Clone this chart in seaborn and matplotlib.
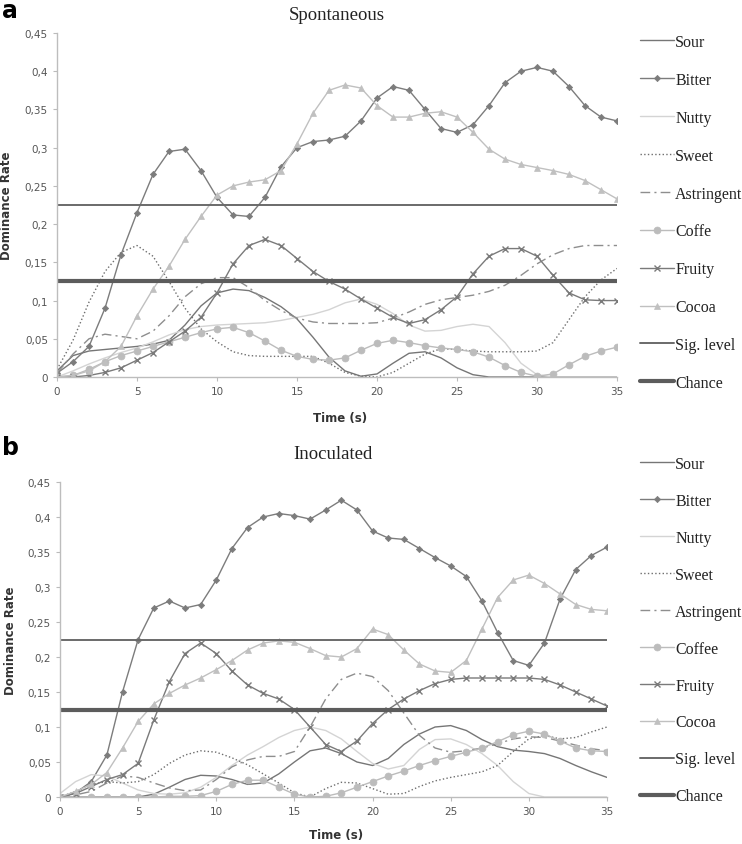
import numpy as np
import pandas as pd
import matplotlib
matplotlib.use("Agg")
import matplotlib.pyplot as plt
import seaborn as sns
from matplotlib.ticker import FuncFormatter, MultipleLocator

# time axis (s)
time_s = list(range(36))

# ---- panel a: spontaneous ----
sour_a = [0.008, 0.028, 0.034, 0.036, 0.038, 0.040, 0.043, 0.048, 0.068, 0.093, 0.110, 0.115,
          0.113, 0.104, 0.092, 0.076, 0.052, 0.026, 0.008, 0.001, 0.004, 0.018, 0.031, 0.033,
          0.025, 0.012, 0.003, 0.0, 0.0, 0.0, 0.0, 0.0, 0.0, 0.0, 0.0, 0.0]
bitter_a = [0.005, 0.020, 0.040, 0.090, 0.160, 0.215, 0.265, 0.295, 0.298, 0.270, 0.235, 0.212,
            0.210, 0.235, 0.275, 0.300, 0.308, 0.310, 0.315, 0.335, 0.365, 0.380, 0.375, 0.350,
            0.325, 0.320, 0.330, 0.355, 0.385, 0.400, 0.405, 0.400, 0.380, 0.355, 0.340, 0.335]
nutty_a = [0.0, 0.008, 0.017, 0.025, 0.032, 0.038, 0.046, 0.055, 0.062, 0.066, 0.068, 0.069,
           0.070, 0.071, 0.074, 0.078, 0.082, 0.088, 0.097, 0.102, 0.095, 0.083, 0.068, 0.060,
           0.061, 0.066, 0.069, 0.066, 0.045, 0.018, 0.003, 0.0, 0.0, 0.0, 0.0, 0.0]
sweet_a = [0.010, 0.048, 0.098, 0.138, 0.163, 0.172, 0.158, 0.125, 0.090, 0.063, 0.046, 0.033,
           0.028, 0.027, 0.027, 0.027, 0.027, 0.018, 0.006, 0.001, 0.0, 0.006, 0.018, 0.030,
           0.037, 0.036, 0.034, 0.033, 0.033, 0.033, 0.034, 0.045, 0.075, 0.105, 0.127, 0.142]
astringent_a = [0.005, 0.030, 0.050, 0.056, 0.053, 0.050, 0.060, 0.080, 0.105, 0.122, 0.130, 0.130,
                0.117, 0.100, 0.087, 0.077, 0.072, 0.070, 0.070, 0.070, 0.071, 0.077, 0.085, 0.095,
                0.101, 0.104, 0.107, 0.112, 0.120, 0.133, 0.148, 0.160, 0.168, 0.172, 0.172, 0.172]
coffee_a = [0.0, 0.002, 0.010, 0.020, 0.028, 0.034, 0.040, 0.046, 0.052, 0.058, 0.063, 0.065,
            0.058, 0.047, 0.035, 0.027, 0.023, 0.022, 0.025, 0.035, 0.044, 0.048, 0.045, 0.041,
            0.038, 0.036, 0.033, 0.026, 0.015, 0.006, 0.001, 0.004, 0.016, 0.027, 0.034, 0.039]
fruity_a = [0.0, 0.0, 0.002, 0.006, 0.012, 0.022, 0.032, 0.046, 0.060, 0.078, 0.110, 0.148,
            0.172, 0.180, 0.172, 0.155, 0.138, 0.125, 0.115, 0.102, 0.090, 0.078, 0.070, 0.075,
            0.088, 0.105, 0.135, 0.158, 0.168, 0.168, 0.158, 0.133, 0.110, 0.101, 0.100, 0.100]
cocoa_a = [0.0, 0.002, 0.008, 0.020, 0.040, 0.080, 0.115, 0.145, 0.180, 0.210, 0.238, 0.250,
           0.255, 0.258, 0.270, 0.305, 0.345, 0.375, 0.382, 0.378, 0.355, 0.340, 0.340, 0.345,
           0.347, 0.340, 0.320, 0.298, 0.285, 0.278, 0.274, 0.270, 0.265, 0.257, 0.245, 0.233]

# ---- panel b: inoculated ----
sour_b = [0.0, 0.0, 0.0, 0.0, 0.0, 0.0, 0.004, 0.014, 0.025, 0.031, 0.030, 0.025,
          0.018, 0.020, 0.033, 0.050, 0.066, 0.070, 0.062, 0.050, 0.045, 0.055, 0.075, 0.090,
          0.100, 0.102, 0.095, 0.082, 0.072, 0.067, 0.065, 0.062, 0.055, 0.045, 0.036, 0.028]
bitter_b = [0.0, 0.006, 0.022, 0.060, 0.150, 0.225, 0.270, 0.280, 0.270, 0.275, 0.310, 0.355,
            0.385, 0.400, 0.405, 0.402, 0.397, 0.410, 0.424, 0.410, 0.380, 0.370, 0.368, 0.355,
            0.342, 0.330, 0.315, 0.280, 0.235, 0.195, 0.188, 0.220, 0.283, 0.325, 0.345, 0.357]
nutty_b = [0.005, 0.022, 0.032, 0.030, 0.020, 0.010, 0.005, 0.004, 0.006, 0.014, 0.028, 0.045,
           0.060, 0.072, 0.085, 0.095, 0.100, 0.095, 0.083, 0.065, 0.048, 0.040, 0.045, 0.068,
           0.082, 0.083, 0.075, 0.062, 0.045, 0.022, 0.005, 0.0, 0.0, 0.0, 0.0, 0.0]
sweet_b = [0.0, 0.008, 0.018, 0.022, 0.020, 0.022, 0.032, 0.048, 0.060, 0.066, 0.064, 0.056,
           0.046, 0.033, 0.020, 0.006, 0.0, 0.012, 0.021, 0.020, 0.012, 0.004, 0.005, 0.015,
           0.023, 0.028, 0.032, 0.036, 0.045, 0.065, 0.083, 0.088, 0.083, 0.085, 0.093, 0.100]
astringent_b = [0.0, 0.003, 0.008, 0.020, 0.030, 0.028, 0.020, 0.013, 0.009, 0.010, 0.025, 0.043,
                0.053, 0.058, 0.058, 0.065, 0.100, 0.140, 0.168, 0.177, 0.172, 0.152, 0.120, 0.088,
                0.070, 0.064, 0.066, 0.070, 0.076, 0.083, 0.086, 0.085, 0.080, 0.074, 0.069, 0.066]
coffee_b = [0.0, 0.0, 0.0, 0.0, 0.0, 0.0, 0.0, 0.001, 0.001, 0.002, 0.008, 0.018,
            0.024, 0.024, 0.014, 0.004, 0.0, 0.001, 0.006, 0.014, 0.022, 0.030, 0.037, 0.045,
            0.052, 0.058, 0.064, 0.070, 0.079, 0.089, 0.094, 0.090, 0.080, 0.070, 0.066, 0.065]
fruity_b = [0.0, 0.005, 0.015, 0.025, 0.032, 0.048, 0.110, 0.165, 0.205, 0.220, 0.205, 0.180,
            0.160, 0.148, 0.140, 0.125, 0.100, 0.075, 0.065, 0.080, 0.105, 0.125, 0.140, 0.152,
            0.162, 0.168, 0.170, 0.170, 0.170, 0.170, 0.170, 0.168, 0.160, 0.150, 0.140, 0.130]
cocoa_b = [0.0, 0.008, 0.018, 0.035, 0.070, 0.108, 0.133, 0.148, 0.160, 0.170, 0.182, 0.195,
           0.210, 0.220, 0.223, 0.221, 0.212, 0.202, 0.200, 0.212, 0.240, 0.232, 0.210, 0.190,
           0.180, 0.178, 0.195, 0.240, 0.285, 0.310, 0.317, 0.305, 0.290, 0.275, 0.268, 0.266]

sig_level = 0.225
chance = 0.125

# style per attribute: color, linestyle, marker, markersize
styles = {
    "Sour":       ("#767676", "-",   None, 0),
    "Bitter":     ("#7c7c7c", "-",   "D", 3.2),
    "Nutty":      ("#d4d4d4", "-",   None, 0),
    "Sweet":      ("#6e6e6e", ":",   None, 0),
    "Astringent": ("#8e8e8e", (0, (7, 3, 1.5, 3)), None, 0),
    "Coffee":     ("#bcbcbc", "-",   "o", 5),
    "Fruity":     ("#7a7a7a", "-",   "x", 4),
    "Cocoa":      ("#c0c0c0", "-",   "^", 4.5),
}

sns.set_theme(style="white")
plt.rcParams["font.family"] = ["DejaVu Sans"]

fig = plt.figure(figsize=(7.42, 8.45), dpi=100)


def draw_panel(rect, series, labels, title, title_xy, letter_xy, letter, leg_anchor, leg_spacing):
    ax = fig.add_axes(rect)
    for name, vals, lab in zip(styles.keys(), series, labels):
        col, ls, mk, ms = styles[name]
        df = pd.DataFrame({"t": time_s, "v": vals})
        sns.lineplot(data=df, x="t", y="v", ax=ax, color=col, linestyle=ls, lw=1.0,
                     marker=mk, markersize=ms, markeredgecolor=col,
                     markeredgewidth=1.0 if mk == "x" else 0.5, label=lab)
    ax.axhline(sig_level, color="#6a6a6a", lw=1.4, label="Sig. level")
    ax.axhline(chance, color="#5c5c5c", lw=3.0, label="Chance")

    ax.set_xlim(0, 35)
    ax.set_ylim(0, 0.45)
    ax.xaxis.set_major_locator(MultipleLocator(5))
    ax.yaxis.set_major_locator(MultipleLocator(0.05))
    ax.yaxis.set_major_formatter(FuncFormatter(lambda v, p: f"{v:g}".replace(".", ",")))
    ax.tick_params(axis="both", labelsize=7.5, labelcolor="#555555", color="#bbbbbb",
                   length=3, width=0.8, direction="out", left=True, bottom=True)
    for side in ["top", "right"]:
        ax.spines[side].set_visible(False)
    for side in ["left", "bottom"]:
        ax.spines[side].set_color("#bdbdbd")
        ax.spines[side].set_linewidth(1.0)
    ax.set_xlabel("Time (s)", fontsize=8.5, fontweight="bold", color="#333333")
    ax.set_ylabel("Dominance Rate", fontsize=8.5, fontweight="bold", color="#333333")
    ax.xaxis.set_label_coords(0.505, -0.10)
    ax.yaxis.set_label_coords(-0.078, 0.5)

    fig.text(title_xy[0], title_xy[1], title, ha="center", va="center",
             family="Liberation Serif", fontsize=13.5, color="#222222")
    fig.text(letter_xy[0], letter_xy[1], letter, ha="left", va="center",
             fontsize=17, fontweight="bold", color="black")

    h, l = ax.get_legend_handles_labels()
    ax.legend(h, l, loc="upper left", bbox_to_anchor=leg_anchor, bbox_transform=fig.transFigure,
              frameon=False, prop={"family": "Liberation Serif", "size": 11.5},
              handlelength=2.1, handletextpad=0.1, labelspacing=leg_spacing,
              borderaxespad=0, borderpad=0, labelcolor="#222222")
    return ax


W, H = 742, 845
draw_panel([57 / W, 1 - 378 / H, 560 / W, 344 / H],
           [sour_a, bitter_a, nutty_a, sweet_a, astringent_a, coffee_a, fruity_a, cocoa_a],
           ["Sour", "Bitter", "Nutty", "Sweet", "Astringent", "Coffe", "Fruity", "Cocoa"],
           "Spontaneous", (337 / W, 1 - 16 / H), (2 / W, 1 - 11 / H), "a",
           (640 / W, 1 - 35 / H), 1.37)

draw_panel([60 / W, 1 - 798 / H, 547 / W, 315 / H],
           [sour_b, bitter_b, nutty_b, sweet_b, astringent_b, coffee_b, fruity_b, cocoa_b],
           ["Sour", "Bitter", "Nutty", "Sweet", "Astringent", "Coffee", "Fruity", "Cocoa"],
           "Inoculated", (333 / W, 1 - 455 / H), (2 / W, 1 - 448 / H), "b",
           (640 / W, 1 - 457 / H), 1.31)

fig.savefig("out.png", dpi=100)
